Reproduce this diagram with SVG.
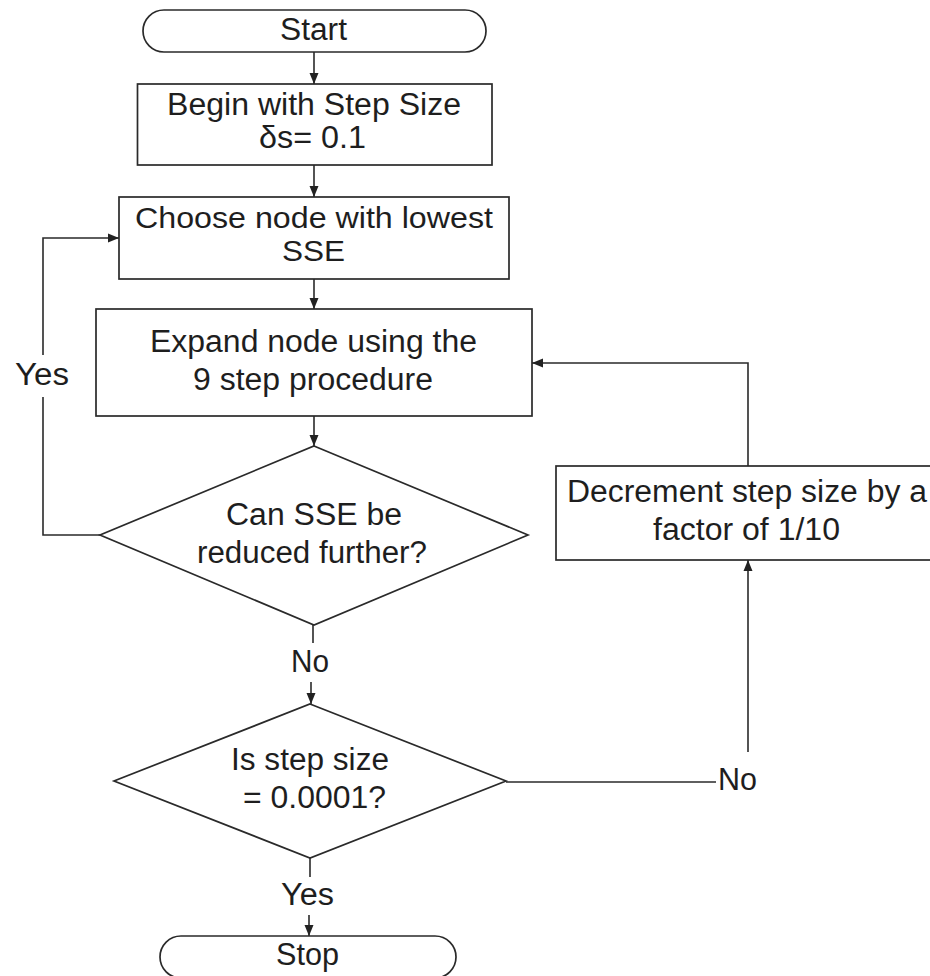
<svg xmlns="http://www.w3.org/2000/svg" width="930" height="976" viewBox="0 0 930 976">
<defs>
<marker id="arr" markerUnits="userSpaceOnUse" markerWidth="12" markerHeight="12" viewBox="0 0 12 12" refX="11" refY="6" orient="auto">
<path d="M0,1.5 L11,6 L0,10.5 Z" fill="#222"/>
</marker>
<style>
.shape{fill:#fff;stroke:#2a2a2a;stroke-width:1.7}
.line{fill:none;stroke:#2a2a2a;stroke-width:1.6}
text{font-family:"Liberation Sans",Arial,sans-serif;font-size:31px;fill:#1e1e1e}
.tight{font-size:29px}
</style>
</defs>
<rect width="930" height="976" fill="#fff"/>
<g id="connectors">
<path class="line" d="M314,52 V84" marker-end="url(#arr)"/>
<path class="line" d="M314,165 V197" marker-end="url(#arr)"/>
<path class="line" d="M314,279 V309" marker-end="url(#arr)"/>
<path class="line" d="M314,416 V446" marker-end="url(#arr)"/>
<path class="line" d="M313,625 V643"/>
<path class="line" d="M311,682 V704" marker-end="url(#arr)"/>
<path class="line" d="M506,782 H716"/>
<path class="line" d="M748,752 V560" marker-end="url(#arr)"/>
<path class="line" d="M748,466 V363 H532" marker-end="url(#arr)"/>
<path class="line" d="M100,535 H43 V397"/>
<path class="line" d="M43,355 V238 H119" marker-end="url(#arr)"/>
<path class="line" d="M310,858 V877"/>
<path class="line" d="M309,915 V936" marker-end="url(#arr)"/>
<text x="15" y="385" textLength="54" lengthAdjust="spacingAndGlyphs">Yes</text>
<text x="291" y="672" textLength="38" lengthAdjust="spacingAndGlyphs">No</text>
<text x="718" y="790" textLength="39" lengthAdjust="spacingAndGlyphs">No</text>
<text x="281" y="905" textLength="53" lengthAdjust="spacingAndGlyphs">Yes</text>
</g>
<g id="start">
<rect class="shape" x="143" y="10" width="343" height="42" rx="21" ry="21"/>
<text x="280" y="40" textLength="67" lengthAdjust="spacingAndGlyphs">Start</text>
</g>
<g id="begin">
<rect class="shape" x="137.5" y="84" width="354.5" height="81"/>
<text x="167" y="115" textLength="294" lengthAdjust="spacingAndGlyphs">Begin with Step Size</text>
<text x="259" y="148" textLength="107" lengthAdjust="spacingAndGlyphs">δs= 0.1</text>
</g>
<g id="choose">
<rect class="shape" x="119" y="197" width="390" height="82"/>
<text class="tight" x="135" y="228" textLength="358" lengthAdjust="spacingAndGlyphs">Choose node with lowest</text>
<text class="tight" x="282" y="261" textLength="63" lengthAdjust="spacingAndGlyphs">SSE</text>
</g>
<g id="expand">
<rect class="shape" x="96" y="309" width="436" height="107"/>
<text x="150" y="352" textLength="327" lengthAdjust="spacingAndGlyphs">Expand node using the</text>
<text x="193" y="390" textLength="240" lengthAdjust="spacingAndGlyphs">9 step procedure</text>
</g>
<g id="canreduce">
<polygon class="shape" points="314,446 528,535 314,625 100,535"/>
<text x="226" y="525" textLength="176" lengthAdjust="spacingAndGlyphs">Can SSE be</text>
<text x="197" y="563" textLength="230" lengthAdjust="spacingAndGlyphs">reduced further?</text>
</g>
<g id="decrement">
<rect class="shape" x="556" y="466" width="380" height="94"/>
<text x="567" y="502" textLength="360" lengthAdjust="spacingAndGlyphs">Decrement step size by a</text>
<text x="653" y="540" textLength="187" lengthAdjust="spacingAndGlyphs">factor of 1/10</text>
</g>
<g id="isstep">
<polygon class="shape" points="310,704 506,781 310,858 114,781"/>
<text x="231" y="770" textLength="158" lengthAdjust="spacingAndGlyphs">Is step size</text>
<text x="243" y="808" textLength="143" lengthAdjust="spacingAndGlyphs">= 0.0001?</text>
</g>
<g id="stop">
<rect class="shape" x="160" y="936" width="296" height="42" rx="21" ry="21"/>
<text x="276" y="965" textLength="63" lengthAdjust="spacingAndGlyphs">Stop</text>
</g>
</svg>
